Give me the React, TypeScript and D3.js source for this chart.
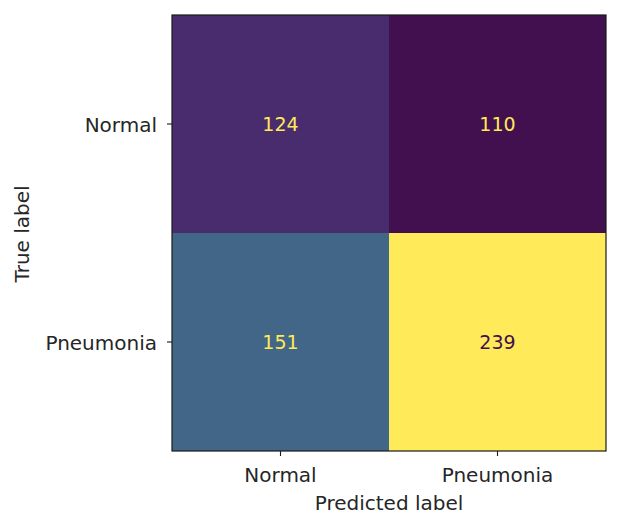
import React from "react";
import * as d3 from "d3";

const trueLabels = ["Normal", "Pneumonia"];
const predLabels = ["Normal", "Pneumonia"];
const matrix = [
  [124, 110],
  [151, 239],
];

function soften(c: string): string {
  const h = d3.hcl(c);
  h.c = h.c * 0.82;
  h.l = h.l + 1;
  return h.formatHex();
}

export default function App() {
  const W = 618, H = 524;
  const left = 172, right = 606, top = 15, bottom = 451;
  const x = d3.scaleBand().domain(predLabels).range([left, right]);
  const y = d3.scaleBand().domain(trueLabels).range([top, bottom]);
  const vals = matrix.flat();
  const vmin = d3.min(vals)!, vmax = d3.max(vals)!;
  const seq = d3.scaleSequential(d3.interpolateViridis).domain([vmin, vmax]);
  const color = (v: number) => soften(seq(v));
  const thresh = (vmin + vmax) / 2;
  const font = "DejaVu Sans, sans-serif";
  const fs = 20;
  const fsNum = 19;
  const cells: any[] = [];
  trueLabels.forEach((t, i) =>
    predLabels.forEach((p, j) => cells.push({ t, p, v: matrix[i][j] }))
  );
  return (
    <svg width={W} height={H} style={{ position: "absolute", left: 0, top: 0 }}>
      <rect width={W} height={H} fill="#fff" />
      {cells.map((c, k) => (
        <rect key={k} x={x(c.p)!} y={y(c.t)!} width={x.bandwidth()} height={y.bandwidth()} fill={color(c.v)} />
      ))}
      {cells.map((c, k) => (
        <text key={"t" + k} x={x(c.p)! + x.bandwidth() / 2} y={y(c.t)! + y.bandwidth() / 2}
          textAnchor="middle" dominantBaseline="central" fontFamily={font} fontSize={fsNum}
          fill={c.v < thresh ? color(vmax) : color(vmin)}>{c.v}</text>
      ))}
      <rect x={left} y={top} width={right - left} height={bottom - top} fill="none" stroke="#1a1a1a" strokeWidth={1.2} />
      {trueLabels.map((t) => {
        const cy = y(t)! + y.bandwidth() / 2;
        return (
          <g key={"y" + t}>
            <line x1={left - 5} x2={left} y1={cy} y2={cy} stroke="#1a1a1a" strokeWidth={1.1} />
            <text x={left - 15} y={cy + 1} textAnchor="end" dominantBaseline="central" fontFamily={font} fontSize={fs} fill="#262626">{t}</text>
          </g>
        );
      })}
      {predLabels.map((p) => {
        const cx = x(p)! + x.bandwidth() / 2;
        return (
          <g key={"x" + p}>
            <line x1={cx} x2={cx} y1={bottom} y2={bottom + 5} stroke="#1a1a1a" strokeWidth={1.1} />
            <text x={cx} y={bottom + 24} textAnchor="middle" dominantBaseline="central" fontFamily={font} fontSize={fs} fill="#262626">{p}</text>
          </g>
        );
      })}
      <text x={(left + right) / 2} y={503} textAnchor="middle" dominantBaseline="central" fontFamily={font} fontSize={fs} fill="#262626">Predicted label</text>
      <text transform={`translate(22,${(top + bottom) / 2 + 1}) rotate(-90)`} textAnchor="middle" dominantBaseline="central" fontFamily={font} fontSize={fs} fill="#262626">True label</text>
    </svg>
  );
}
